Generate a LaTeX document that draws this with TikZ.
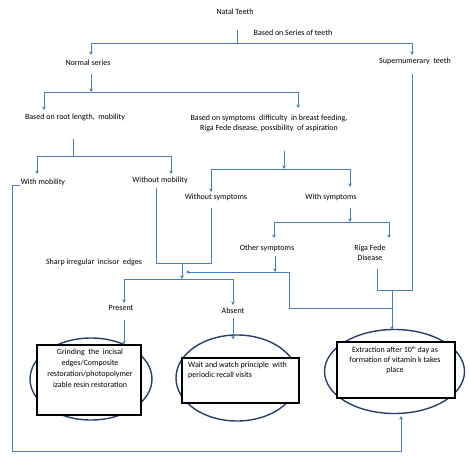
\documentclass[tikz,border=0pt]{standalone}
\usepackage{fontspec}
\setmainfont{Carlito}
\usetikzlibrary{arrows.meta,shapes.geometric}
\definecolor{linkblue}{RGB}{74,126,187}
\definecolor{ovalnavy}{RGB}{38,64,106}
\begin{document}
\begin{tikzpicture}[x=1pt, y=-1pt, font=\fontsize{8}{10}\selectfont,
  txt/.style={inner sep=0pt, align=center},
  conn/.style={draw=linkblue, line width=0.9pt},
  arr/.style={conn, -{Stealth[length=3.5pt, width=3.5pt]}},
  oval/.style={draw=ovalnavy, line width=1.4pt, ellipse, inner sep=0pt},
  plan/.style={draw=black, fill=white, line width=1.2pt, inner sep=0pt}]
  \useasboundingbox (0,0) rectangle (470,465);
  % text nodes
  \node[txt] (natal) at (235,12) {Natal Teeth};
  \node[txt] (series) at (293,33) {Based on Series of teeth};
  \node[txt] (normal) at (88,63) {Normal series};
  \node[txt] (super) at (415,61) {Supernumerary\ \ teeth};
  \node[txt] (root) at (75,117) {Based on root length,\ \ mobility};
  \node[txt] (symp) at (269,123) {Based on symptoms\ \ difficulty\ \ in breast feeding,\\Riga Fede disease, possibility\ \ of aspiration};
  \node[txt] (withmob) at (43,182) {With mobility};
  \node[txt] (withoutmob) at (160,180) {Without mobility};
  \node[txt] (withoutsymp) at (216,197) {Without symptoms};
  \node[txt] (withsymp) at (331,197) {With symptoms};
  \node[txt] (other) at (267,248) {Other symptoms};
  \node[txt] (riga) at (370,253) {Riga Fede\\Disease};
  \node[txt] (sharp) at (94,262) {Sharp irregular\ \ incisor\ \ edges};
  \node[txt] (present) at (121,308) {Present};
  \node[txt] (absent) at (233,311) {Absent};
  % outcomes
  \node[oval, minimum width=122pt, minimum height=82pt] (ov1) at (91,379) {};
  \node[oval, minimum width=122pt, minimum height=86pt] (ov2) at (237,378) {};
  \node[oval, minimum width=140pt, minimum height=84pt] (ov3) at (394.5,371.5) {};
  \node[plan, minimum width=104pt, minimum height=70pt] (box1) at (89,380) {};
  \node[plan, minimum width=117pt, minimum height=45pt] (box2) at (240.5,380.5) {};
  \node[plan, minimum width=118pt, minimum height=56pt] (box3) at (396,370) {};
  \node[txt, anchor=north, font=\fontsize{8}{11}\selectfont] (grind) at (90,348.5)
    {Grinding\ \ the\ \ incisal\\edges/Composite\\restoration/photopolymer\\izable resin restoration};
  \node[txt, anchor=north west, align=left] (wait) at (188,361.5)
    {Wait and watch principle\ \ with\\periodic recall visits};
  \node[txt, anchor=north] (extract) at (395,346.5)
    {Extraction after 10\raisebox{2.5pt}{\fontsize{4.5}{5}\selectfont th} day as\\formation of vitamin k takes\\place};
  % junctions and line ends
  \coordinate (natal-out) at (237,30);   \coordinate (j0) at (237,43);
  \coordinate (normal-in) at (91,55);    \coordinate (super-in) at (412,55);
  \coordinate (normal-out) at (91,74);   \coordinate (j1) at (91,92);
  \coordinate (root-in) at (44,110);     \coordinate (symp-in) at (298,108);
  \coordinate (root-out) at (73,139);    \coordinate (j2) at (73,156);
  \coordinate (withmob-in) at (37,174);  \coordinate (withoutmob-in) at (171,174);
  \coordinate (symp-out) at (284,151);   \coordinate (j3) at (284,169);
  \coordinate (withoutsymp-in) at (211,192); \coordinate (withsymp-in) at (350,187);
  \coordinate (withsymp-out) at (350,208); \coordinate (j4) at (350,222);
  \coordinate (other-in) at (274,238);   \coordinate (riga-in) at (389,238);
  \coordinate (withmob-out) at (20,185); \coordinate (k4) at (12,451);
  \coordinate (ov3-bot) at (401,416);
  \coordinate (withoutmob-out) at (156,188); \coordinate (withoutsymp-out) at (211,208);
  \coordinate (j5) at (182,263);         \coordinate (j6) at (182,279);
  \coordinate (present-in) at (124,303); \coordinate (absent-in) at (233,305);
  \coordinate (present-out) at (124,320); \coordinate (absent-out) at (233,318);
  \coordinate (other-out) at (275,256);  \coordinate (j7) at (289,272);
  \coordinate (k7) at (186,272);
  \coordinate (riga-out) at (377,269);   \coordinate (super-out) at (412,74);
  \coordinate (j9) at (392,290);         \coordinate (j8) at (392,308);
  \coordinate (ov3-in) at (392,330);
  % connectors
  \draw[conn] (natal-out) -- (j0);
  \draw[arr] (j0) -| (normal-in);
  \draw[arr] (j0) -| (super-in);
  \draw[arr] (normal-out) -- (j1);
  \draw[arr] (j1) -| (root-in);
  \draw[arr] (j1) -| (symp-in);
  \draw[conn] (root-out) -- (j2);
  \draw[arr] (j2) -| (withmob-in);
  \draw[arr] (j2) -| (withoutmob-in);
  \draw[arr] (symp-out) -- (j3);
  \draw[arr] (j3) -| (withoutsymp-in);
  \draw[arr] (j3) -| (withsymp-in);
  \draw[arr] (withsymp-out) -- (j4);
  \draw[arr] (j4) -| (other-in);
  \draw[arr] (j4) -| (riga-in);
  \draw[arr] (withmob-out) -| (k4) -| (ov3-bot);
  \draw[conn] (withoutmob-out) |- (j5);
  \draw[conn] (withoutsymp-out) |- (j5);
  \draw[arr] (j5) -- (j6);
  \draw[arr] (j6) -| (present-in);
  \draw[arr] (j6) -| (absent-in);
  \draw[arr] (present-out) -- (box1.north -| present-out);
  \draw[arr] (absent-out) -- ([yshift=-5pt]ov2.north -| absent-out);
  \draw[arr] (other-out) -- (other-out |- j7);
  \draw[arr] (j7) -- (k7);
  \draw[conn] (j7) |- (j8);
  \draw[conn] (riga-out) |- (j9);
  \draw[conn] (super-out) |- (j9);
  \draw[arr] (j9) -- (ov3-in);
\end{tikzpicture}
\end{document}
